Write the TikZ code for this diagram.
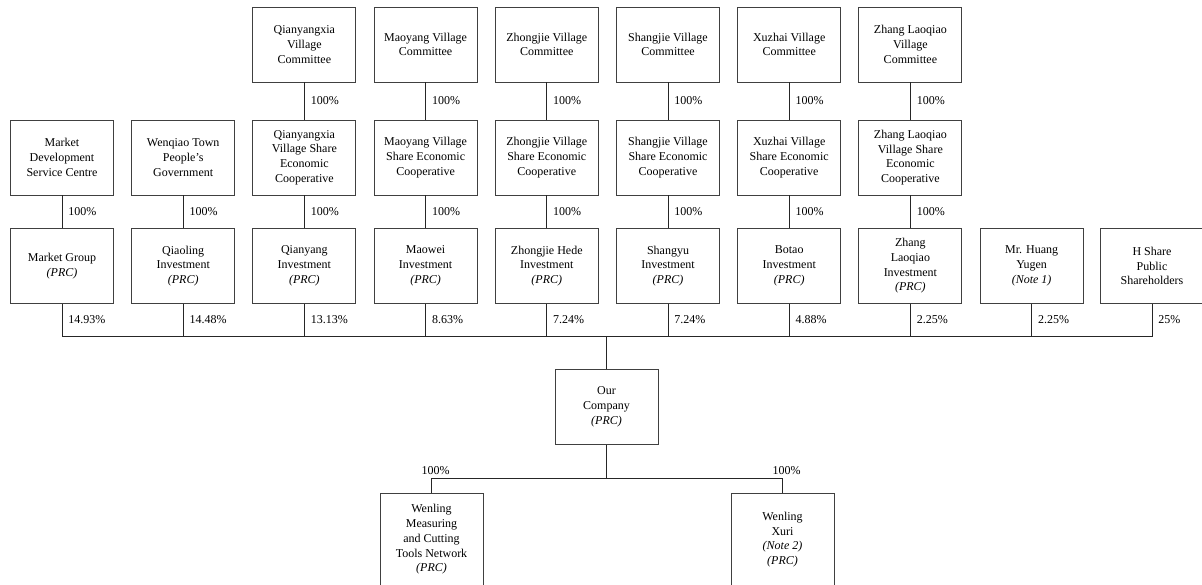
\documentclass[tikz,border=0pt]{standalone}
\usepackage{fontspec}
\setmainfont{Liberation Serif}
\tikzset{
    %Define style for boxes
    entity/.style={
           rectangle,
           draw=black!75, line width=0.9pt,
           minimum height=75pt,
           minimum width=103pt,
           inner sep=2pt,
           align=center},
    % Define style for holding lines
    hold/.style={
           draw=black!85,
           line width=0.8pt},
    % Define style for percentages
    pct/.style={
           right,
           xshift=5pt,
           inner sep=1pt}
}

\begin{document}
\begin{tikzpicture}[x=1pt,y=-1pt,font=\fontsize{12}{14.7}\selectfont]
\useasboundingbox (0,0) rectangle (1202,585);

% village committees
\node[entity] (qyxcom) at (304.4,44.5) {Qianyangxia\\Village\\Committee};
\node[entity] (mycom) at (425.6,44.5) {Maoyang Village\\Committee};
\node[entity] (zjcom) at (546.8,44.5) {Zhongjie Village\\Committee};
\node[entity] (sjcom) at (668,44.5) {Shangjie Village\\Committee};
\node[entity] (xzcom) at (789.2,44.5) {Xuzhai Village\\Committee};
\node[entity] (zlqcom) at (910.4,44.5) {Zhang Laoqiao\\Village\\Committee};

% second row
\node[entity] (mdsc) at (62,157.5) {Market\\Development\\Service Centre};
\node[entity] (wtpg) at (183.2,157.5) {Wenqiao Town\\People's\\Government};
\node[entity] (qyxcoop) at (304.4,157.5) {Qianyangxia\\Village Share\\Economic\\Cooperative};
\node[entity] (mycoop) at (425.6,157.5) {Maoyang Village\\Share Economic\\Cooperative};
\node[entity] (zjcoop) at (546.8,157.5) {Zhongjie Village\\Share Economic\\Cooperative};
\node[entity] (sjcoop) at (668,157.5) {Shangjie Village\\Share Economic\\Cooperative};
\node[entity] (xzcoop) at (789.2,157.5) {Xuzhai Village\\Share Economic\\Cooperative};
\node[entity] (zlqcoop) at (910.4,157.5) {Zhang Laoqiao\\Village Share\\Economic\\Cooperative};

% shareholders
\node[entity] (mktgrp) at (62,266) {Market Group\\\textit{(PRC)}};
\node[entity] (qlinv) at (183.2,266) {Qiaoling\\Investment\\\textit{(PRC)}};
\node[entity] (qyinv) at (304.4,266) {Qianyang\\Investment\\\textit{(PRC)}};
\node[entity] (mwinv) at (425.6,266) {Maowei\\Investment\\\textit{(PRC)}};
\node[entity] (zjhinv) at (546.8,266) {Zhongjie Hede\\Investment\\\textit{(PRC)}};
\node[entity] (syinv) at (668,266) {Shangyu\\Investment\\\textit{(PRC)}};
\node[entity] (btinv) at (789.2,266) {Botao\\Investment\\\textit{(PRC)}};
\node[entity] (zlqinv) at (910.4,266) {Zhang\\Laoqiao\\Investment\\\textit{(PRC)}};
\node[entity] (huang) at (1031.6,266) {Mr. Huang\\Yugen\\\textit{(Note 1)}};
\node[entity] (hshare) at (1152,266) {H Share\\Public\\Shareholders};

\coordinate (bus) at (606.5,336);
\coordinate (fork) at (606.5,478);

\node[entity] (company) at (606.5,407) {Our\\Company\\\textit{(PRC)}};

% subsidiaries
\node[entity, minimum height=93pt] (wlmct) at (431.5,539.5) {Wenling\\Measuring\\and Cutting\\Tools Network\\\textit{(PRC)}};
\node[entity, minimum height=93pt] (wlxr) at (782.5,539.5) {Wenling\\Xuri\\\textit{(Note 2)}\\\textit{(PRC)}};

\draw[hold] (qyxcom.south) edge node[pct] {100\%} (qyxcoop.north);
\draw[hold] (mycom.south) edge node[pct] {100\%} (mycoop.north);
\draw[hold] (zjcom.south) edge node[pct] {100\%} (zjcoop.north);
\draw[hold] (sjcom.south) edge node[pct] {100\%} (sjcoop.north);
\draw[hold] (xzcom.south) edge node[pct] {100\%} (xzcoop.north);
\draw[hold] (zlqcom.south) edge node[pct] {100\%} (zlqcoop.north);

\draw[hold] (mdsc.south) edge node[pct] {100\%} (mktgrp.north);
\draw[hold] (wtpg.south) edge node[pct] {100\%} (qlinv.north);
\draw[hold] (qyxcoop.south) edge node[pct] {100\%} (qyinv.north);
\draw[hold] (mycoop.south) edge node[pct] {100\%} (mwinv.north);
\draw[hold] (zjcoop.south) edge node[pct] {100\%} (zjhinv.north);
\draw[hold] (sjcoop.south) edge node[pct] {100\%} (syinv.north);
\draw[hold] (xzcoop.south) edge node[pct] {100\%} (btinv.north);
\draw[hold] (zlqcoop.south) edge node[pct] {100\%} (zlqinv.north);

\draw[hold] (mktgrp.south) |- node[pct, pos=0.25] {14.93\%} (bus);
\draw[hold] (qlinv.south) |- node[pct, pos=0.25] {14.48\%} (bus);
\draw[hold] (qyinv.south) |- node[pct, pos=0.25] {13.13\%} (bus);
\draw[hold] (mwinv.south) |- node[pct, pos=0.25] {8.63\%} (bus);
\draw[hold] (zjhinv.south) |- node[pct, pos=0.25] {7.24\%} (bus);
\draw[hold] (syinv.south) |- node[pct, pos=0.25] {7.24\%} (bus);
\draw[hold] (btinv.south) |- node[pct, pos=0.25] {4.88\%} (bus);
\draw[hold] (zlqinv.south) |- node[pct, pos=0.25] {2.25\%} (bus);
\draw[hold] (huang.south) |- node[pct, pos=0.25] {2.25\%} (bus);
\draw[hold] (hshare.south) |- node[pct, pos=0.25] {25\%} (bus);

\draw[hold] (bus) -- (company.north);
\draw[hold] (company.south) -- (fork);
\draw[hold] (fork) -| node[pos=0.5, above, xshift=4pt] {100\%} (wlmct.north);
\draw[hold] (fork) -| node[pos=0.5, above, xshift=4pt] {100\%} (wlxr.north);

\end{tikzpicture}
\end{document}
